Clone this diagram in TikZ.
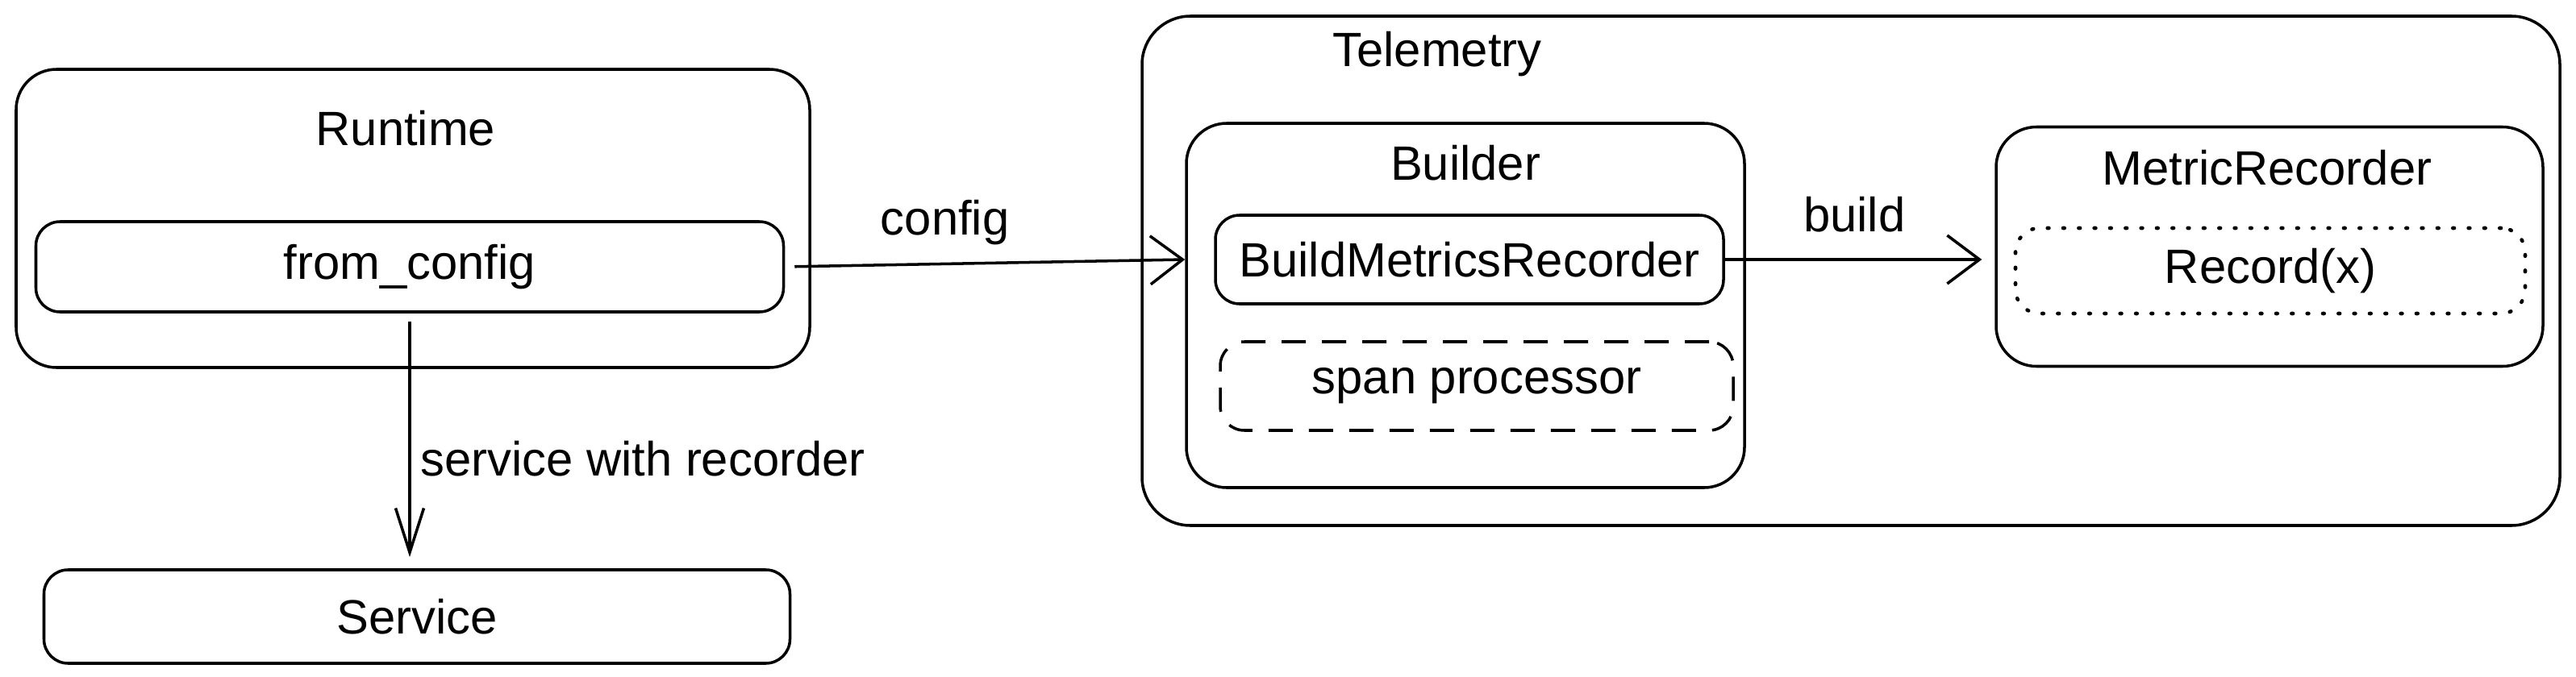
\documentclass[tikz,border=0pt]{standalone}
\usepackage{fontspec}
\setmainfont{Liberation Sans}
\usetikzlibrary{arrows.meta}

\begin{document}
\begin{tikzpicture}[
        every node/.style={font=\fontsize{17}{20}\selectfont},
        box/.style={draw, line width=1pt, rounded corners=#1},
        box/.default=5mm,
        arrow/.style={line width=1pt, -{Straight Barb[length=4mm, width=6mm]}}
    ]
        \useasboundingbox (0,0) rectangle (31.94,8.39);

        % left side
        \node[box, minimum width=9.84cm, minimum height=3.70cm] (runtime) at (5.12,5.68) {};
        \node (runtimelabel) at (5.03,6.80) {Runtime};
        \node[box=3mm, minimum width=9.27cm, minimum height=1.12cm] (fromconfig) at (5.08,5.08) {from\_config};
        \node[box=3mm, minimum width=9.25cm, minimum height=1.16cm] (service) at (5.17,0.74) {Service};

        % telemetry
        \node[box=6mm, minimum width=17.58cm, minimum height=6.32cm] (telemetry) at (22.95,5.03) {};
        \node (telemetrylabel) at (17.82,7.72) {Telemetry};
        \node[box, minimum width=6.92cm, minimum height=4.52cm] (builder) at (18.17,4.60) {};
        \node (builderlabel) at (18.17,6.37) {Builder};
        \node[box=3mm, minimum width=6.30cm, minimum height=1.10cm] (bmr) at (18.22,5.17) {BuildMetricsRecorder};
        \node[box=3mm, dash pattern=on 3mm off 2mm, minimum width=6.36cm, minimum height=1.10cm] (spanproc) at (18.31,3.60) {span processor};
        \node[box, minimum width=6.78cm, minimum height=2.97cm] (recorder) at (28.14,5.33) {};
        \node (recorderlabel) at (28.11,6.31) {MetricRecorder};
        \node[box=3mm, line width=1.3pt, line cap=round, dash pattern=on 0.5pt off 5pt, minimum width=6.32cm, minimum height=1.06cm] (record) at (28.15,5.03) {Record(x)};

        % connectors
        \path[arrow, shorten <=1.2mm] (fromconfig.east) edge node[pos=0.4, above=1mm] {config} (bmr.west -| builder.west);
        \path[arrow, shorten >=1.6mm] (bmr.east) edge node[pos=0.48, above=2mm] {build} (bmr.east -| recorder.west);
        \path[line width=1pt, -{Straight Barb[length=5.5mm, width=3.5mm]}, shorten <=1mm, shorten >=1.4mm]
            (fromconfig.south) edge node[pos=0.57, right] {service with recorder} (fromconfig.south |- service.north);
      \end{tikzpicture}
\end{document}
